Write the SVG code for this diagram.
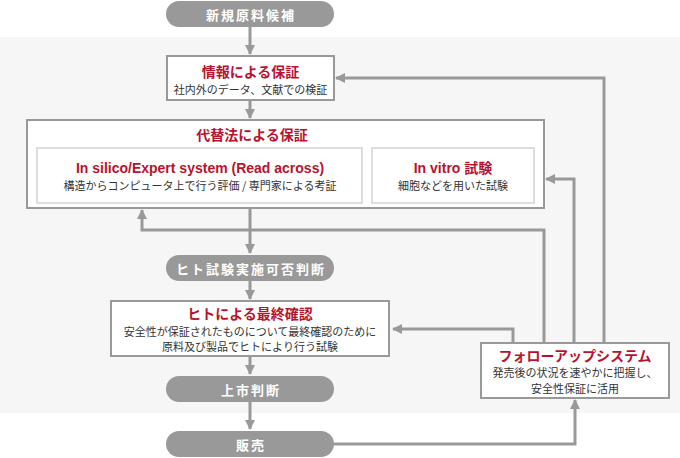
<svg xmlns="http://www.w3.org/2000/svg" width="680" height="458" viewBox="0 0 680 458">
<defs>
<marker id="ah" markerWidth="10" markerHeight="10" refX="9" refY="5" orient="auto" markerUnits="userSpaceOnUse" viewBox="0 0 10 10">
<path d="M0,0 L10,5 L0,10 Z" fill="#999"/>
</marker>
</defs>
<style>
.pill{fill:#999}
.pt{fill:#fff;font-family:"Noto Sans CJK JP","Noto Sans",sans-serif;font-size:13px;font-weight:bold;letter-spacing:2px;text-anchor:middle;dominant-baseline:central}
.box{fill:#fff;stroke:#999;stroke-width:2}
.inner{fill:#fff;stroke:#ddd;stroke-width:2}
.ttl{fill:#b8122e;font-family:"Noto Sans CJK JP","Noto Sans",sans-serif;font-size:14px;font-weight:bold;text-anchor:middle;dominant-baseline:central}
.en{fill:#b8122e;font-family:"Liberation Sans","Noto Sans CJK JP",sans-serif;font-size:14px;font-weight:bold;text-anchor:middle;dominant-baseline:central}
.sub{fill:#333;font-family:"Noto Sans CJK JP","Noto Sans",sans-serif;font-size:11px;text-anchor:middle;dominant-baseline:central}
.c{fill:none;stroke:#999;stroke-width:3}
</style>
<rect x="0" y="37" width="680" height="376" fill="#f6f6f6"/>
<g id="connectors">
<path class="c" d="M250,27 V54" marker-end="url(#ah)"/>
<path class="c" d="M250,100 V118" marker-end="url(#ah)"/>
<path class="c" d="M250,208 V253" marker-end="url(#ah)"/>
<path class="c" d="M250,281 V299" marker-end="url(#ah)"/>
<path class="c" d="M250,356 V374" marker-end="url(#ah)"/>
<path class="c" d="M250,402 V429" marker-end="url(#ah)"/>
<path class="c" d="M334,444 H575 V400" marker-end="url(#ah)"/>
<path class="c" d="M513,343 V329 H393" marker-end="url(#ah)"/>
<path class="c" d="M544,343 V230 H142 V210" marker-end="url(#ah)"/>
<path class="c" d="M574,343 V179 H546" marker-end="url(#ah)"/>
<path class="c" d="M604,343 V78 H336" marker-end="url(#ah)"/>
</g>
<g id="n-candidate">
<rect class="pill" x="166" y="1" width="168" height="26" rx="13"/>
<text class="pt" x="251" y="14">新規原料候補</text>
</g>
<g id="n-info">
<rect class="box" x="167" y="56" width="167" height="44"/>
<text class="ttl" x="250.5" y="71">情報による保証</text>
<text class="sub" x="250.5" y="89">社内外のデータ、文献での検証</text>
</g>
<g id="n-alt">
<rect class="box" x="27" y="120" width="517" height="88"/>
<text class="ttl" x="252" y="134">代替法による保証</text>
</g>
<g id="n-insilico">
<rect class="inner" x="37" y="148" width="325" height="55"/>
<text class="en" x="200" y="168">In silico/Expert system (Read across)</text>
<text class="sub" x="200" y="185">構造からコンピュータ上で行う評価 / 専門家による考証</text>
</g>
<g id="n-invitro">
<rect class="inner" x="372" y="148" width="162" height="55"/>
<text class="en" x="453" y="168">In vitro 試験</text>
<text class="sub" x="453" y="185">細胞などを用いた試験</text>
</g>
<g id="n-humanjudge">
<rect class="pill" x="166" y="255" width="168" height="26" rx="13"/>
<text class="pt" x="251" y="268">ヒト試験実施可否判断</text>
</g>
<g id="n-human">
<rect class="box" x="111" y="301" width="278" height="55"/>
<text class="ttl" x="250" y="313">ヒトによる最終確認</text>
<text class="sub" x="250" y="330.5">安全性が保証されたものについて最終確認のために</text>
<text class="sub" x="250" y="346">原料及び製品でヒトにより行う試験</text>
</g>
<g id="n-market">
<rect class="pill" x="166" y="376" width="168" height="26" rx="13"/>
<text class="pt" x="251" y="389">上市判断</text>
</g>
<g id="n-sale">
<rect class="pill" x="166" y="431" width="168" height="26" rx="13"/>
<text class="pt" x="251" y="444">販売</text>
</g>
<g id="n-follow">
<rect class="box" x="481" y="343" width="188" height="55"/>
<text class="ttl" x="575" y="355">フォローアップシステム</text>
<text class="sub" x="575" y="372">発売後の状況を速やかに把握し、</text>
<text class="sub" x="575" y="387.5">安全性保証に活用</text>
</g>
</svg>
